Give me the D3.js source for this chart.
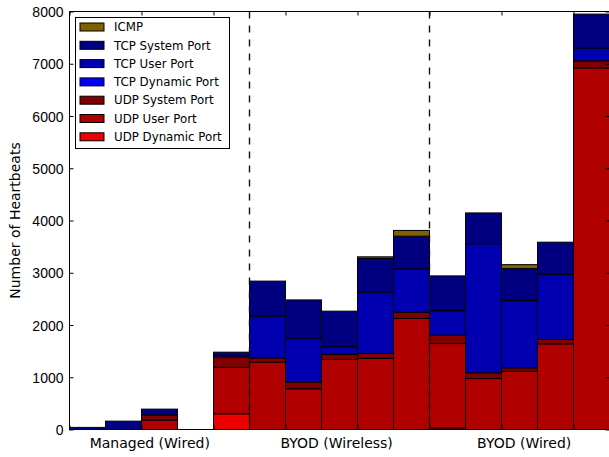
<!DOCTYPE html>
<html>
<head>
<meta charset="utf-8">
<script src="https://cdn.jsdelivr.net/npm/d3@7"></script>
<style>
  body { margin: 0; background: #fff; }
  svg { display: block; font-family: "DejaVu Sans", sans-serif; }
</style>
</head>
<body>
<div id="chart"></div>
<script>
// heartbeat counts per bar, one array per port class (bottom of stack first)
var udpDynamic = [0, 0, 0, 0, 300, 0, 0, 0, 0, 0, 30, 0, 0, 0, 0];
var udpUser    = [0, 0, 180, 0, 890, 1290, 780, 1340, 1360, 2125, 1615, 975, 1115, 1640, 6920];
var udpSystem  = [0, 0, 100, 0, 200, 80, 130, 95, 95, 120, 160, 110, 65, 85, 135];
var tcpDynamic = [0, 0, 0, 0, 0, 0, 0, 0, 0, 0, 0, 0, 0, 0, 0];
var tcpUser    = [0, 0, 0, 0, 30, 800, 840, 150, 1175, 830, 470, 2470, 1290, 1245, 245];
var tcpSystem  = [40, 160, 110, 0, 60, 670, 730, 680, 645, 625, 665, 590, 610, 615, 650];
var icmp       = [0, 0, 0, 0, 0, 0, 0, 0, 30, 110, 0, 0, 75, 0, 0];

var seriesNames = ['UDP Dynamic Port', 'UDP User Port', 'UDP System Port',
                   'TCP Dynamic Port', 'TCP User Port', 'TCP System Port', 'ICMP'];
var seriesColors = ['#ee0000', '#b00000', '#800000', '#0000ff', '#0000b0', '#000080', '#806000'];
var seriesValues = [udpDynamic, udpUser, udpSystem, tcpDynamic, tcpUser, tcpSystem, icmp];

var groupLabels = ['Managed (Wired)', 'BYOD (Wireless)', 'BYOD (Wired)'];
var groupLabelPos = [2.23, 7.42, 12.63];
var groupBreaks = [5, 10];
var yTicks = [0, 1000, 2000, 3000, 4000, 5000, 6000, 7000, 8000];
var xTicks = [0, 2, 4, 6, 8, 10, 12, 14];

var W = 609, H = 457;
var svg = d3.select('#chart').append('svg')
    .attr('width', W)
    .attr('height', H);

var x = d3.scaleLinear().domain([0, 15]).range([69.5, 609.5]);
var y = d3.scaleLinear().domain([0, 8000]).range([429.5, 11.5]);

// build table for d3.stack
var rows = udpUser.map(function(d, i) {
    var r = { i: i };
    seriesNames.forEach(function(name, k) { r[name] = seriesValues[k][i]; });
    return r;
});
var stacked = d3.stack().keys(seriesNames)(rows);

var layers = svg.append('g').selectAll('g')
    .data(stacked).enter()
    .append('g')
    .attr('fill', function(d, k) { return seriesColors[k]; });

layers.selectAll('rect')
    .data(function(d) { return d.filter(function(p) { return p[1] - p[0] > 0; }); })
    .enter().append('rect')
    .attr('x', function(p) { return x(p.data.i); })
    .attr('width', function(p) { return x(p.data.i + 1) - x(p.data.i); })
    .attr('y', function(p) { return y(p[1]); })
    .attr('height', function(p) { return y(p[0]) - y(p[1]); })
    .attr('stroke', '#000')
    .attr('stroke-width', 1);

// dashed separators between groups
svg.append('g').selectAll('line')
    .data(groupBreaks).enter()
    .append('line')
    .attr('x1', function(d) { return x(d); })
    .attr('x2', function(d) { return x(d); })
    .attr('y1', y(8000))
    .attr('y2', y(0))
    .attr('stroke', '#111')
    .attr('stroke-width', 1.4)
    .attr('stroke-dasharray', '7,7');

// axes, ticks pointing inward like matplotlib
var yLeft = svg.append('g')
    .attr('transform', 'translate(' + x(0) + ',0)')
    .call(d3.axisLeft(y).tickValues(yTicks).tickFormat(d3.format('d'))
        .tickSizeInner(-4).tickSizeOuter(0).tickPadding(6));
var yRight = svg.append('g')
    .attr('transform', 'translate(' + x(15) + ',0)')
    .call(d3.axisRight(y).tickValues(yTicks).tickSizeInner(-4).tickSizeOuter(0).tickFormat(''));
var xBottom = svg.append('g')
    .attr('transform', 'translate(0,' + y(0) + ')')
    .call(d3.axisBottom(x).tickValues(xTicks).tickSizeInner(-4).tickSizeOuter(0).tickFormat(''));
var xTop = svg.append('g')
    .attr('transform', 'translate(0,' + y(8000) + ')')
    .call(d3.axisTop(x).tickValues(xTicks).tickSizeInner(-4).tickSizeOuter(0).tickFormat(''));

[yLeft, yRight, xBottom, xTop].forEach(function(g) {
    g.select('.domain').remove();
    g.selectAll('.tick line').attr('stroke', '#000');
});
yLeft.selectAll('.tick text')
    .attr('fill', '#000')
    .style('font-size', '14px')
    .attr('dy', '0.36em');

// frame
svg.append('rect')
    .attr('x', x(0))
    .attr('y', y(8000))
    .attr('width', x(15) - x(0))
    .attr('height', y(0) - y(8000))
    .attr('fill', 'none')
    .attr('stroke', '#000')
    .attr('stroke-width', 1);

// category labels
svg.append('g').selectAll('text')
    .data(groupLabels).enter()
    .append('text')
    .attr('x', function(d, i) { return x(groupLabelPos[i]); })
    .attr('y', 448)
    .attr('text-anchor', 'middle')
    .style('font-size', '14px')
    .text(function(d) { return d; });

svg.append('text')
    .attr('transform', 'translate(20,' + ((y(0) + y(8000)) / 2) + ') rotate(-90)')
    .attr('text-anchor', 'middle')
    .style('font-size', '14px')
    .text('Number of Heartbeats');

// legend (top of stack listed first)
var legend = svg.append('g').attr('transform', 'translate(75.5,17.5)');
legend.append('rect')
    .attr('width', 154)
    .attr('height', 131)
    .attr('fill', '#fff')
    .attr('stroke', '#000')
    .attr('stroke-width', 1);

var legendItems = seriesNames.slice().reverse();
var legendColors = seriesColors.slice().reverse();
var item = legend.selectAll('.item')
    .data(legendItems).enter()
    .append('g')
    .attr('class', 'item')
    .attr('transform', function(d, i) { return 'translate(0,' + (9.5 + i * 18.3) + ')'; });

item.append('rect')
    .attr('x', 4.5)
    .attr('y', -4)
    .attr('width', 24)
    .attr('height', 8)
    .attr('fill', function(d, i) { return legendColors[i]; })
    .attr('stroke', '#000')
    .attr('stroke-width', 1);

item.append('text')
    .attr('x', 38.5)
    .attr('dy', '0.36em')
    .style('font-size', '11.8px')
    .text(function(d) { return d; });
</script>
</body>
</html>
